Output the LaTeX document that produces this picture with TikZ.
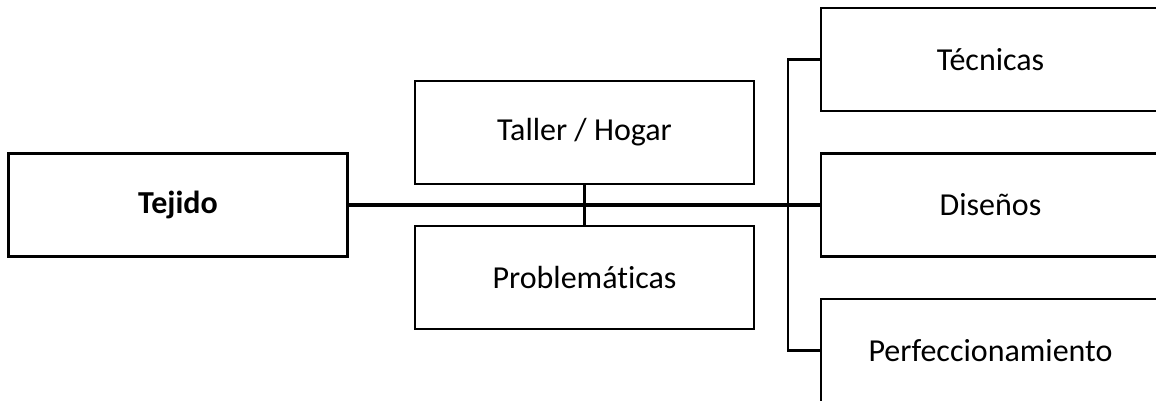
\documentclass[tikz,border=0pt]{standalone}
\usepackage{fontspec}
\setmainfont{Carlito}[Ligatures=NoCommon]
\tikzset{
  box/.style={draw=black, line width=2.6pt, fill=white, minimum width=339pt, minimum height=103pt, inner sep=0pt, font=\fontsize{32}{38}\selectfont},
  mainline/.style={line width=3.2pt},
  link/.style={line width=2.4pt}
}
\begin{document}
\begin{tikzpicture}[x=1pt,y=-1pt]
\useasboundingbox (0,0) rectangle (1156,401);
\clip (0,0) rectangle (1156,401);
\fill[white] (0,0) rectangle (1156,401);
\node[box, font=\fontsize{32}{38}\selectfont\bfseries] (tej) at (178,205) {Tejido};
\node[box] (tal) at (584.5,132.5) {Taller / Hogar};
\node[box] (pro) at (584.5,277.5) {Problemáticas};
\node[box] (tec) at (990.5,59.5) {Técnicas};
\node[box] (dis) at (990.5,205) {Diseños};
\node[box] (per) at (990.5,350.5) {Perfeccionamiento};
\coordinate (bx) at (788,0);
\draw[link] (tal.south) -- (pro.north);
\draw[mainline] (tej.east) -- (dis.west);
\draw[link] (tec.west) -- (tec.west -| bx) -- (per.west -| bx) -- (per.west);
\end{tikzpicture}
\end{document}
